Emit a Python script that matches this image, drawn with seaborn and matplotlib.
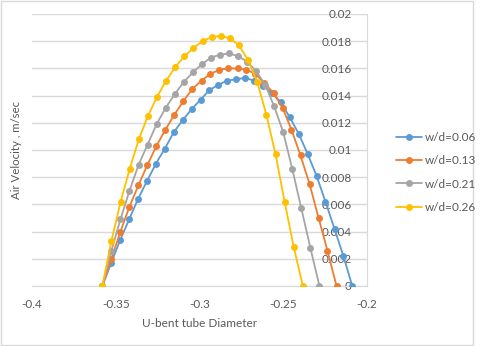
import numpy as np
import pandas as pd
import matplotlib
matplotlib.use('Agg')
import matplotlib.pyplot as plt
import matplotlib.patches as patches
import seaborn as sns

# values
x_006 = [-0.358, -0.3527, -0.3473, -0.3420, -0.3367, -0.3314, -0.3260, -0.3207, -0.3154, -0.3100,
         -0.3047, -0.2994, -0.2941, -0.2887, -0.2834, -0.2781, -0.2727, -0.2674, -0.2621, -0.2567,
         -0.2514, -0.2461, -0.2408, -0.2354, -0.2301, -0.2248, -0.2194, -0.2141, -0.2088]
y_006 = [0, 0.0017, 0.0034, 0.0049, 0.0064, 0.0077, 0.0090, 0.0101, 0.0113, 0.0122,
         0.0130, 0.0137, 0.0144, 0.0148, 0.0151, 0.0152, 0.0153, 0.0151, 0.0147, 0.0142,
         0.0135, 0.0124, 0.0112, 0.0097, 0.0081, 0.0062, 0.0042, 0.0022, 0]

x_013 = [-0.358, -0.3526, -0.3472, -0.3419, -0.3365, -0.3311, -0.3257, -0.3203, -0.3150, -0.3096,
         -0.3042, -0.2988, -0.2935, -0.2881, -0.2827, -0.2773, -0.2720, -0.2666, -0.2612, -0.2558,
         -0.2504, -0.2451, -0.2397, -0.2343, -0.2289, -0.2236, -0.2182]
y_013 = [0, 0.0020, 0.0040, 0.0058, 0.0074, 0.0089, 0.0103, 0.0115, 0.0126, 0.0136,
         0.0145, 0.0151, 0.0156, 0.0159, 0.0160, 0.0160, 0.0159, 0.0156, 0.0149, 0.0142,
         0.0131, 0.0115, 0.0096, 0.0075, 0.0050, 0.0026, 0]

x_021 = [-0.358, -0.3526, -0.3472, -0.3418, -0.3364, -0.3310, -0.3256, -0.3202, -0.3148, -0.3094,
         -0.3040, -0.2986, -0.2932, -0.2878, -0.2824, -0.2770, -0.2716, -0.2662, -0.2608, -0.2554,
         -0.2500, -0.2446, -0.2392, -0.2338, -0.2284]
y_021 = [0, 0.0026, 0.0049, 0.0070, 0.0089, 0.0104, 0.0119, 0.0131, 0.0141, 0.0150,
         0.0157, 0.0163, 0.0168, 0.0170, 0.0171, 0.0169, 0.0165, 0.0158, 0.0148, 0.0132,
         0.0113, 0.0086, 0.0057, 0.0028, 0]

x_026 = [-0.358, -0.3526, -0.3471, -0.3417, -0.3362, -0.3308, -0.3254, -0.3199, -0.3145, -0.3090,
         -0.3036, -0.2982, -0.2927, -0.2873, -0.2818, -0.2764, -0.2710, -0.2655, -0.2601, -0.2546,
         -0.2492, -0.2438, -0.2383]
y_026 = [0, 0.0033, 0.0062, 0.0086, 0.0108, 0.0125, 0.0139, 0.0151, 0.0161, 0.0169,
         0.0175, 0.0180, 0.0183, 0.0184, 0.0182, 0.0177, 0.0166, 0.0150, 0.0126, 0.0097,
         0.0062, 0.0029, 0]

series_names = ['w/d=0.06', 'w/d=0.13', 'w/d=0.21', 'w/d=0.26']
colors = ['#5B9BD5', '#ED7D31', '#A5A5A5', '#FFC000']

x_ticks = [-0.4, -0.35, -0.3, -0.25, -0.2]
x_ticklabels = ['-0.4', '-0.35', '-0.3', '-0.25', '-0.2']
y_ticks = [0, 0.002, 0.004, 0.006, 0.008, 0.01, 0.012, 0.014, 0.016, 0.018, 0.02]
y_ticklabels = ['0', '0.002', '0.004', '0.006', '0.008', '0.01', '0.012', '0.014', '0.016', '0.018', '0.02']

frames = []
for name, xs, ys in zip(series_names, [x_006, x_013, x_021, x_026], [y_006, y_013, y_021, y_026]):
    frames.append(pd.DataFrame({'x': xs, 'y': ys, 'series': name}))
df = pd.concat(frames, ignore_index=True)

sns.set_style('white')
plt.rcParams['font.family'] = ['Lato', 'DejaVu Sans']
text_col = '#595959'
grid_col = '#D9D9D9'

fig = plt.figure(figsize=(4.8, 3.46), dpi=100)
ax = fig.add_axes([32/480, 1-286/346, 335/480, 272/346])

sns.lineplot(data=df, x='x', y='y', hue='series', hue_order=series_names, palette=colors,
             marker='o', markersize=5, markeredgewidth=0, linewidth=1.3,
             estimator=None, sort=False, ax=ax, legend=False, zorder=3)

ax.set_xlim(-0.4, -0.2)
ax.set_ylim(0, 0.02)
ax.set_xticks(x_ticks)
ax.set_xticklabels(x_ticklabels)
ax.set_yticks(y_ticks)
ax.set_yticklabels(y_ticklabels)
ax.tick_params(axis='both', length=0, labelsize=8.5, colors=text_col)
ax.tick_params(axis='x', pad=9)
ax.tick_params(axis='y', pad=11)

ax.grid(axis='y', color=grid_col, linewidth=1)
ax.grid(axis='x', visible=False)
ax.set_axisbelow(True)

for s in ['top', 'right']:
    ax.spines[s].set_visible(False)
ax.spines['left'].set_position(('data', -0.2))
ax.spines['left'].set_color(grid_col)
ax.spines['bottom'].set_color(grid_col)
ax.spines['left'].set_zorder(1)

ax.set_xlabel('U-bent tube Diameter', fontsize=8.5, color=text_col, labelpad=6)
ax.set_ylabel('')
fig.text(17/480, 1-150/346, 'Air Velocity , m/sec', rotation=90, fontsize=8.2, color=text_col,
         ha='center', va='center')

handles = [plt.Line2D([], [], color=c, marker='o', markersize=5, markeredgewidth=0, linewidth=1.3)
           for c in colors]
leg = fig.legend(handles, series_names, loc='upper left', bbox_to_anchor=(391/480, 1-127/346),
                 frameon=False, fontsize=8.5, handlelength=2.2, handletextpad=0.3,
                 labelspacing=1.05, borderaxespad=0)
for t in leg.get_texts():
    t.set_color(text_col)

fig.patches.append(patches.Rectangle((1/480, 1/346), 472/480, 344/346, transform=fig.transFigure,
                                     fill=False, edgecolor=grid_col, linewidth=1))

fig.savefig('out.png', dpi=100)
